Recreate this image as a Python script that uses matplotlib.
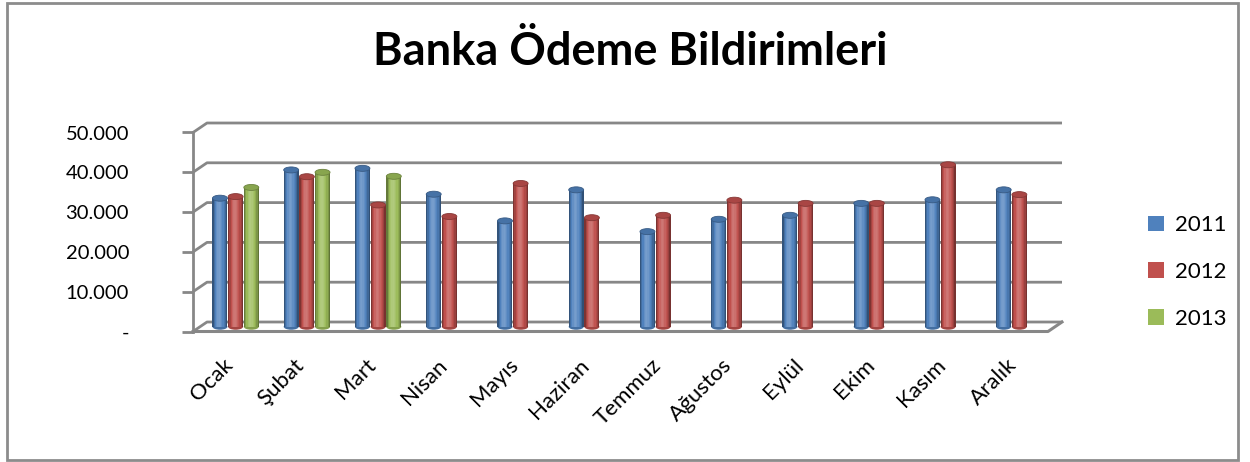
import numpy as np
import matplotlib
matplotlib.use("Agg")
import matplotlib.pyplot as plt
from matplotlib.patches import Ellipse, Rectangle, Patch
from matplotlib.colors import to_rgb

# Chart data
months = ["Ocak", "Şubat", "Mart", "Nisan", "Mayıs", "Haziran", "Temmuz",
          "Ağustos", "Eylül", "Ekim", "Kasım", "Aralık"]
years = ["2011", "2012", "2013"]
v2011 = [32300, 39400, 39800, 33300, 26600, 34400, 23900, 27000, 28000, 31000, 31900, 34400]
v2012 = [32700, 37700, 30600, 27700, 36000, 27400, 28000, 31800, 31000, 31000, 40700, 33200]
v2013 = [35000, 38800, 37800, None, None, None, None, None, None, None, None, None]
ytick_vals = [0, 10000, 20000, 30000, 40000, 50000]
ytick_labels = ["-", "10.000", "20.000", "30.000", "40.000", "50.000"]

colors = ["#4F81BD", "#C0504D", "#9BBB59"]
grid_c = "#878787"
font = "Lato"

W, H = 1250, 462
fig = plt.figure(figsize=(W / 100, H / 100), dpi=100)

# front plane of the 3D box, in pixels
x0, x1, ytop, ybot = 193, 1048, 132.5, 331.5
ax = fig.add_axes([x0 / W, 1 - ybot / H, (x1 - x0) / W, (ybot - ytop) / H])
ax.set_xlim(-0.5, 11.5)
ax.set_ylim(0, 50000)
ax.set_facecolor("none")

px_x = 12 / (x1 - x0)
px_y = 50000 / (ybot - ytop)
ddx = 14 * px_x      # depth offset of back wall
ddy = 9.5 * px_y

# back wall gridlines + side diagonals
for v in ytick_vals:
    ax.plot([-0.5, -0.5 + ddx, 11.5 + ddx], [v, v + ddy, v + ddy],
            color=grid_c, lw=2, clip_on=False, zorder=1, solid_capstyle="butt")
# floor
ax.plot([-0.5, 11.5, 11.5 + ddx], [0, 0, ddy], color=grid_c, lw=2.2,
        clip_on=False, zorder=5)
ax.plot([-0.5, -0.5], [0, 50000], color=grid_c, lw=2, clip_on=False, zorder=5)

# cylinder shading profile across bar width
prof = np.array([-0.35, -0.15, 0.0, 0.12, 0.2, 0.22, 0.18, 0.1, 0.02, -0.08, -0.2, -0.38])
nstr = len(prof)


def shade(c, f):
    c = np.array(to_rgb(c))
    if f >= 0:
        return tuple(c + (1 - c) * f)
    return tuple(c * (1 + f))


bw = 0.21
slot = 0.22
x = np.arange(len(months))
series = [v2011, v2012, v2013]
cap_h = 6 * px_y
for s, (vals, col) in enumerate(zip(series, colors)):
    for i, v in enumerate(vals):
        if v is None:
            continue
        cx = x[i] + ddx / 2 + (s - 1) * slot
        base = ddy / 2
        # bottom ellipse
        ax.add_patch(Ellipse((cx, base), bw, cap_h, facecolor=shade(col, -0.15),
                             edgecolor="none", zorder=3))
        edges = cx - bw / 2 + np.arange(nstr) * bw / nstr
        ax.bar(edges, [v] * nstr, width=bw / nstr * 1.05, bottom=base, align="edge",
               color=[shade(col, f) for f in prof], linewidth=0, zorder=3)
        ax.add_patch(Ellipse((cx, v + base), bw, cap_h, facecolor=shade(col, -0.12),
                             edgecolor=shade(col, -0.3), lw=0.6, zorder=4))

# axes styling
for sp in ax.spines.values():
    sp.set_visible(False)
ax.set_yticks(ytick_vals)
ax.set_yticklabels(ytick_labels, fontsize=14.5, family=font)
ax.tick_params(axis="y", length=8, width=2, color=grid_c, pad=38)
for lab in ax.get_yticklabels():
    lab.set_horizontalalignment("right")
ax.set_xticks(x)
ax.set_xticklabels([])
ax.tick_params(axis="x", length=0)
for i, m in enumerate(months):
    ax.annotate(m, (x[i], 0), xycoords="data", xytext=(-4, -17), textcoords="offset points",
                rotation=45, ha="right", va="top", rotation_mode="anchor",
                fontsize=16, family=font, annotation_clip=False)

# title
fig.text(630 / W, 1 - 65 / H, "Banka Ödeme Bildirimleri", ha="center", va="baseline",
         fontsize=32.5, fontweight="bold", family=font)

# legend
handles = [Patch(facecolor=c, edgecolor="none") for c in colors]
fig.legend(handles, years, loc="center left", bbox_to_anchor=(1128 / W, 1 - 272 / H),
           frameon=False, prop={"family": font, "size": 16}, handlelength=0.7,
           handleheight=0.7, handletextpad=0.5, labelspacing=1.2)

# outer border
fig.patches.append(Rectangle((7 / W, 2 / H), 1231 / W, 457 / H, transform=fig.transFigure,
                             fill=False, edgecolor="#8C8C8C", lw=2))

fig.savefig("out.png", dpi=100)
